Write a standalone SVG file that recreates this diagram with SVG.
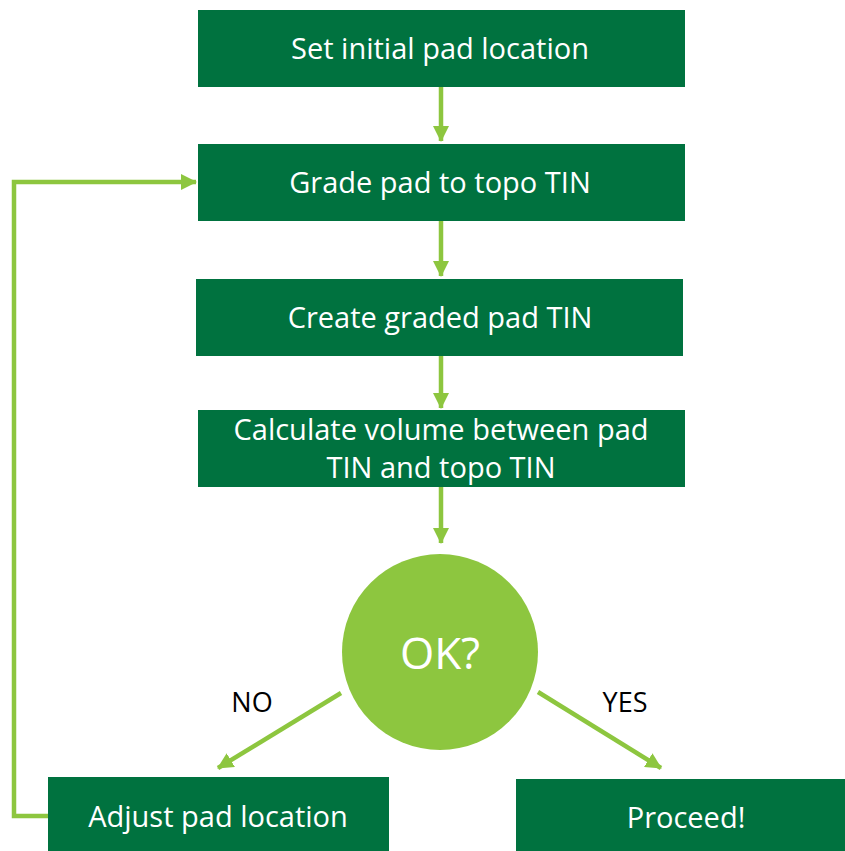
<svg xmlns="http://www.w3.org/2000/svg" width="845" height="851" viewBox="0 0 845 851">
  <style>
    .box { fill: #00723F; }
    .dec { fill: #8DC63F; }
    .lbl { fill: #FFFFFF; font-family: "Open Sans", "Liberation Sans", sans-serif; font-size: 29px; text-anchor: middle; }
    .big { fill: #FFFFFF; font-family: "Open Sans", "Liberation Sans", sans-serif; font-size: 44px; text-anchor: middle; }
    .edge { fill: #000000; font-family: "Open Sans", "Liberation Sans", sans-serif; font-size: 27px; text-anchor: middle; }
    .conn { fill: none; stroke: #8DC63F; stroke-width: 4.5; }
  </style>
  <defs>
    <marker id="ah" markerUnits="userSpaceOnUse" markerWidth="16" markerHeight="16" viewBox="0 0 16 16" refX="15" refY="8" orient="auto">
      <path d="M0,0 L16,8 L0,16 Z" fill="#8DC63F"/>
    </marker>
  </defs>
  <rect width="845" height="851" fill="#FFFFFF"/>

  <g id="connectors">
    <path class="conn" d="M441,87 V141" marker-end="url(#ah)"/>
    <path class="conn" d="M441,221 V276" marker-end="url(#ah)"/>
    <path class="conn" d="M441,356 V408" marker-end="url(#ah)"/>
    <path class="conn" d="M441,487 V543" marker-end="url(#ah)"/>
    <path class="conn" d="M341,693 L218,768" marker-end="url(#ah)"/>
    <path class="conn" d="M538,692 L661,768" marker-end="url(#ah)"/>
    <path class="conn" d="M48,816 H14 V182 H196" marker-end="url(#ah)"/>
    <text class="edge" x="252" y="712">NO</text>
    <text class="edge" x="625" y="712">YES</text>
  </g>

  <g id="n1">
    <rect class="box" x="198" y="10" width="487" height="77"/>
    <text class="lbl" x="440" y="59">Set initial pad location</text>
  </g>
  <g id="n2">
    <rect class="box" x="198" y="144" width="487" height="77"/>
    <text class="lbl" x="440" y="193">Grade pad to topo TIN</text>
  </g>
  <g id="n3">
    <rect class="box" x="196" y="279" width="487" height="77"/>
    <text class="lbl" x="440" y="328">Create graded pad TIN</text>
  </g>
  <g id="n4">
    <rect class="box" x="198" y="410" width="487" height="77"/>
    <text class="lbl" x="441" y="440">Calculate volume between pad</text>
    <text class="lbl" x="441" y="478">TIN and topo TIN</text>
  </g>
  <g id="n5">
    <circle class="dec" cx="440" cy="652" r="98"/>
    <text class="big" x="440" y="669">OK?</text>
  </g>
  <g id="n6">
    <rect class="box" x="48" y="777" width="341" height="80"/>
    <text class="lbl" x="218" y="827">Adjust pad location</text>
  </g>
  <g id="n7">
    <rect class="box" x="516" y="779" width="335" height="80"/>
    <text class="lbl" x="686" y="828">Proceed!</text>
  </g>
</svg>
